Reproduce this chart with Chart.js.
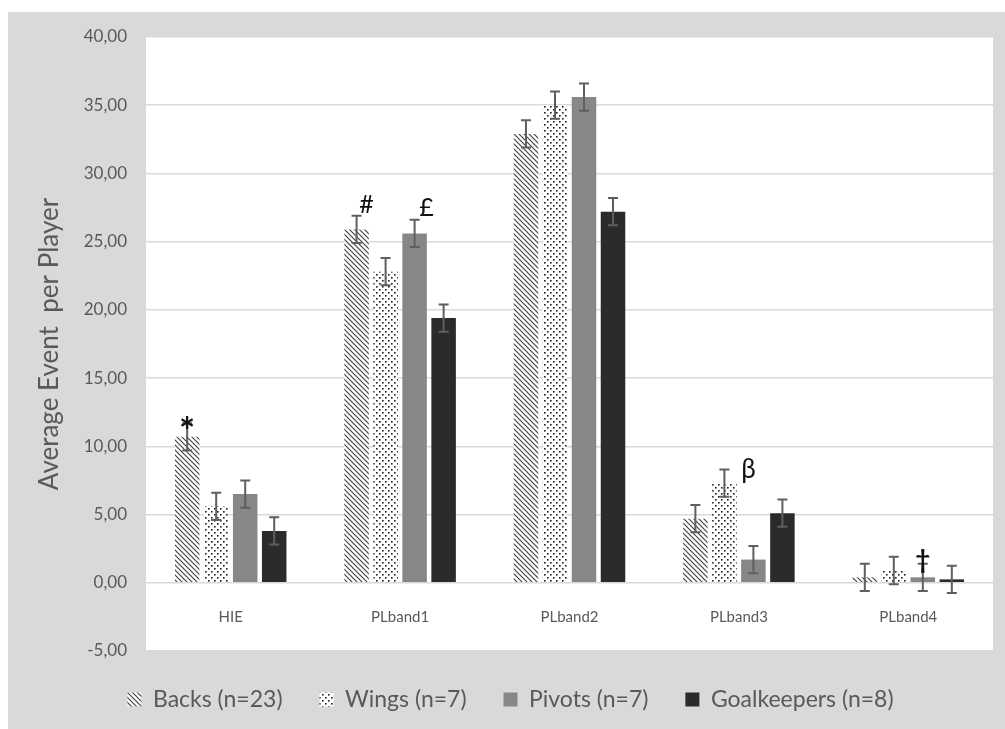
<!DOCTYPE html>
<html><head><meta charset="utf-8">
<script src="https://cdn.jsdelivr.net/npm/chart.js@4.4.1/dist/chart.umd.min.js"></script>
<style>html,body{margin:0;padding:0;background:#fff;overflow:hidden}#c{display:block}</style>
</head><body>
<canvas id="c" width="1005" height="729"></canvas>
<script>
// ---- data ----
const categories = ['HIE', 'PLband1', 'PLband2', 'PLband3', 'PLband4'];
const seriesNames = ['Backs (n=23)', 'Wings (n=7)', 'Pivots (n=7)', 'Goalkeepers (n=8)'];
const backs       = [10.7, 25.9, 32.9, 4.7, 0.4];
const wings       = [5.6, 22.8, 35.0, 7.3, 0.9];
const pivots      = [6.5, 25.6, 35.6, 1.7, 0.4];
const goalkeepers = [3.8, 19.4, 27.2, 5.1, 0.25];
const backsErr       = [1.0, 1.0, 1.0, 1.0, 1.0];
const wingsErr       = [1.0, 1.0, 1.0, 1.0, 1.0];
const pivotsErr      = [1.0, 1.0, 1.0, 1.0, 1.0];
const goalkeepersErr = [1.0, 1.0, 1.0, 1.0, 1.0];
const yTickValues = [-5, 0, 5, 10, 15, 20, 25, 30, 35, 40];
const markTexts    = ['*', '#', '£', 'β', '†'];
const markCategory = [0, 1, 1, 3, 4];
const markSeries   = [0, 0, 2, 1, 2];

const FONT = 'Lato, "Open Sans", sans-serif';
const canvas = document.getElementById('c');
const ctx = canvas.getContext('2d');

function stripes() {
  const t = document.createElement('canvas'); t.width = 5; t.height = 5;
  const g = t.getContext('2d');
  g.fillStyle = '#ffffff'; g.fillRect(0, 0, 5, 5);
  g.strokeStyle = '#444444'; g.lineWidth = 1.2;
  g.beginPath();
  g.moveTo(-1, -1); g.lineTo(6, 6);
  g.moveTo(-1, 4); g.lineTo(1, 6);
  g.moveTo(4, -1); g.lineTo(6, 1);
  g.stroke();
  return ctx.createPattern(t, 'repeat');
}
function dots() {
  const t = document.createElement('canvas'); t.width = 6; t.height = 6;
  const g = t.getContext('2d');
  g.fillStyle = '#ffffff'; g.fillRect(0, 0, 6, 6);
  g.fillStyle = '#1e1e1e';
  g.fillRect(1, 1, 1.6, 1.6);
  g.fillRect(4, 4, 1.6, 1.6);
  return ctx.createPattern(t, 'repeat');
}

const values = [backs, wings, pivots, goalkeepers];
const errors = [backsErr, wingsErr, pivotsErr, goalkeepersErr];
const fills = [stripes(), dots(), '#878787', '#2b2b2b'];

const bgPlugin = {
  id: 'bg',
  beforeDraw(chart) {
    const c = chart.ctx, a = chart.chartArea;
    c.save();
    c.fillStyle = '#ffffff'; c.fillRect(0, 0, chart.width, chart.height);
    c.fillStyle = '#d9d9d9'; c.fillRect(8, 12, chart.width - 8, chart.height - 12);
    c.fillStyle = '#ffffff'; c.fillRect(a.left, a.top, a.right - a.left, a.bottom - a.top);
    c.restore();
  }
};

const errPlugin = {
  id: 'errbars',
  afterDatasetsDraw(chart) {
    const c = chart.ctx, ys = chart.scales.y;
    c.save();
    c.strokeStyle = '#5f5f5f'; c.lineWidth = 2;
    values.forEach((vals, i) => {
      const meta = chart.getDatasetMeta(i);
      meta.data.forEach((el, j) => {
        const v = vals[j], e = errors[i][j];
        const yt = ys.getPixelForValue(v + e), yb = ys.getPixelForValue(v - e);
        c.beginPath();
        c.moveTo(el.x, yt); c.lineTo(el.x, yb);
        c.moveTo(el.x - 5, yt); c.lineTo(el.x + 5, yt);
        c.moveTo(el.x - 5, yb); c.lineTo(el.x + 5, yb);
        c.stroke();
      });
    });
    // significance marks
    const style = {
      '*': {dx: 0, dy: 10, font: 'bold 38px ' + FONT},
      '#': {dx: 10, dy: -11, font: '25px ' + FONT},
      '£': {dx: 12, dy: -12, font: '25px ' + FONT},
      'β': {dx: 24, dy: 0, font: '26px ' + FONT},
      '†': {dx: 0, dy: -3, font: 'bold 26px ' + FONT}
    };
    c.fillStyle = '#111111'; c.textAlign = 'center'; c.textBaseline = 'middle';
    markTexts.forEach((t, k) => {
      const i = markSeries[k], j = markCategory[k];
      const el = chart.getDatasetMeta(i).data[j];
      const yt = ys.getPixelForValue(values[i][j] + errors[i][j]);
      const s = style[t];
      c.font = s.font;
      c.fillText(t, el.x + s.dx, yt + s.dy);
    });
    c.restore();
  }
};

new Chart(canvas, {
  type: 'bar',
  data: {
    labels: categories,
    datasets: seriesNames.map((n, i) => ({
      label: n,
      data: values[i],
      backgroundColor: fills[i],
      borderWidth: 0,
      categoryPercentage: 0.685,
      barPercentage: 0.845
    }))
  },
  options: {
    responsive: false,
    animation: false,
    devicePixelRatio: 1,
    layout: {padding: {left: 28, top: 37, right: 12, bottom: 8}},
    plugins: {
      legend: {
        position: 'bottom',
        labels: {
          boxWidth: 14, boxHeight: 14, padding: 37,
          color: '#595959',
          font: {family: FONT, size: 23}
        }
      },
      tooltip: {enabled: false}
    },
    scales: {
      x: {
        position: {y: 0},
        grid: {display: false},
        border: {display: false},
        ticks: {color: '#595959', font: {family: FONT, size: 15}, padding: 17}
      },
      y: {
        min: -5, max: 40,
        afterBuildTicks(scale) { scale.ticks = yTickValues.map(v => ({value: v})); },
        afterFit(scale) { scale.width = 118; },
        grid: {color: '#d9d9d9', lineWidth: 1.5, drawTicks: false},
        border: {display: false},
        ticks: {
          color: '#595959', padding: 19,
          font: {family: FONT, size: 17},
          callback: v => v.toFixed(2).replace('.', ',')
        },
        title: {
          display: true, text: 'Average Event  per Player',
          color: '#595959', font: {family: FONT, size: 26},
          padding: {top: 6, bottom: 0}
        }
      }
    }
  },
  plugins: [bgPlugin, errPlugin]
});
</script>
</body></html>
